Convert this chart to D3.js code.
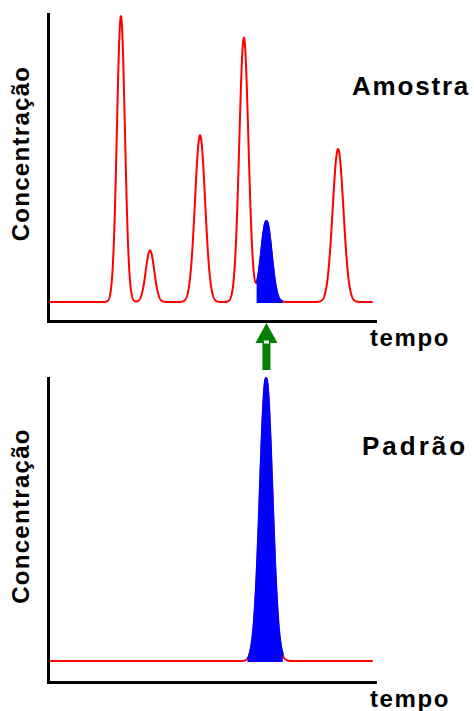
<!DOCTYPE html>
<html>
<head>
<meta charset="utf-8">
<script src="https://cdn.jsdelivr.net/npm/d3@7"></script>
<style>
  html, body { margin: 0; padding: 0; background: #fff; }
  svg { display: block; }
  text { font-family: "Liberation Sans", Arial, sans-serif; font-weight: bold; fill: #000; }
</style>
</head>
<body>
<svg id="chart" width="474" height="711"></svg>
<script>
// ---- Data ----
// Time axis 0..100, concentration axis 0..100 (arbitrary units)
const sampleBaseline = 6.2;
const sampleCenters  = [22.3, 31.2, 46.5, 59.9, 66.8, 88.7];
const sampleHeights  = [93.0, 16.8, 54.3, 86.0, 26.3, 49.8];
const sampleSigmaL   = [1.22, 1.30, 1.55, 1.40, 1.60, 1.65];
const sampleSigmaR   = [1.22, 1.30, 1.55, 1.40, 1.55, 1.65];
const sampleMarkedPeak = 4;          // index of the highlighted (blue) peak
const sampleMarkedRange = [63.8, 71.8];

const standardBaseline = 6.9;
const standardCenters  = [66.7];
const standardHeights  = [93.0];
const standardSigmaL   = [1.85];
const standardSigmaR   = [1.85];
const standardMarkedRange = [61.0, 71.8];

const timeRange = [0, 99.3];
const labels = { y: "Concentração", x: "tempo", sample: "Amostra", standard: "Padrão" };

// ---- Layout ----
const svg = d3.select("#chart");

function peakValue(t, centers, heights, sL, sR, baseline) {
  let v = baseline;
  for (let i = 0; i < centers.length; i++) {
    const s = t < centers[i] ? sL[i] : sR[i];
    const d = (t - centers[i]) / s;
    v += heights[i] * Math.exp(-0.5 * d * d);
  }
  return v;
}

function drawPanel(opts) {
  const x = d3.scaleLinear().domain([0, 100]).range([opts.left, opts.right]);
  const y = d3.scaleLinear().domain([0, 100]).range([opts.bottom, opts.top]);
  const g = svg.append("g");

  const f = t => peakValue(t, opts.centers, opts.heights, opts.sL, opts.sR, opts.baseline);
  const step = 0.05;
  const ts = d3.range(timeRange[0], timeRange[1] + 1e-9, step);

  // red chromatogram trace
  const line = d3.line().x(t => x(t)).y(t => y(f(t)));
  g.append("path").datum(ts).attr("d", line)
    .attr("fill", "none").attr("stroke", "#ff0000").attr("stroke-width", 2);

  // blue highlighted area (covers the red trace over its extent)
  const mt = d3.range(opts.marked[0], opts.marked[1] + 1e-9, step);
  const area = d3.area().x(t => x(t)).y0(y(opts.baseline) + 1).y1(t => y(f(t)));
  g.append("path").datum(mt).attr("d", area).attr("fill", "#0000ff");
  g.append("path").datum(mt).attr("d", line)
    .attr("fill", "none").attr("stroke", "#0000ff").attr("stroke-width", 2.4)
    .attr("stroke-linejoin", "round");

  // axes
  const ax = g.append("g").attr("transform", `translate(0,${opts.bottom})`)
    .call(d3.axisBottom(x).ticks(0).tickSize(0).tickSizeOuter(0));
  const ay = g.append("g").attr("transform", `translate(${opts.left},0)`)
    .call(d3.axisLeft(y).ticks(0).tickSize(0).tickSizeOuter(0));
  [ax, ay].forEach(a => {
    a.select(".domain").attr("stroke", "#000").attr("stroke-width", 3).attr("stroke-linecap", "square");
    a.selectAll("text").remove();
  });

  // labels
  g.append("text")
    .attr("transform", `translate(29,${(opts.top + opts.bottom) / 2 - 14}) rotate(-90)`)
    .attr("text-anchor", "middle").style("font-size", "24px").style("letter-spacing", "1.3px")
    .text(labels.y);
  g.append("text").attr("x", 370).attr("y", opts.bottom + 25)
    .style("font-size", "24px").style("letter-spacing", "1.6px").text(labels.x);
  g.append("text").attr("x", opts.titleX).attr("y", opts.titleY)
    .style("font-size", "26px").style("letter-spacing", opts.titleSpacing).text(opts.title);
  return { x, y };
}

const samplePanel = drawPanel({
  left: 48, right: 375, top: 14, bottom: 321,
  centers: sampleCenters, heights: sampleHeights, sL: sampleSigmaL, sR: sampleSigmaR,
  baseline: sampleBaseline, marked: sampleMarkedRange,
  title: labels.sample, titleX: 352, titleY: 95, titleSpacing: "1.8px"
});

drawPanel({
  left: 48, right: 375, top: 378, bottom: 682,
  centers: standardCenters, heights: standardHeights, sL: standardSigmaL, sR: standardSigmaR,
  baseline: standardBaseline, marked: standardMarkedRange,
  title: labels.standard, titleX: 362, titleY: 455, titleSpacing: "3px"
});

// green arrow linking the marked peak to the standard
const ax0 = samplePanel.x(sampleCenters[sampleMarkedPeak]);
const green = "#008000";
const arrow = svg.append("g");
arrow.append("path")
  .attr("d", `M${ax0},323 L${ax0 + 11},343 L${ax0 - 11},343 Z`).attr("fill", green);
arrow.append("rect").attr("x", ax0 - 4).attr("y", 342).attr("width", 8).attr("height", 28).attr("fill", green);
arrow.append("rect").attr("x", ax0 - 2.5).attr("y", 340.5).attr("width", 5).attr("height", 3).attr("fill", "#fff");
</script>
</body>
</html>
